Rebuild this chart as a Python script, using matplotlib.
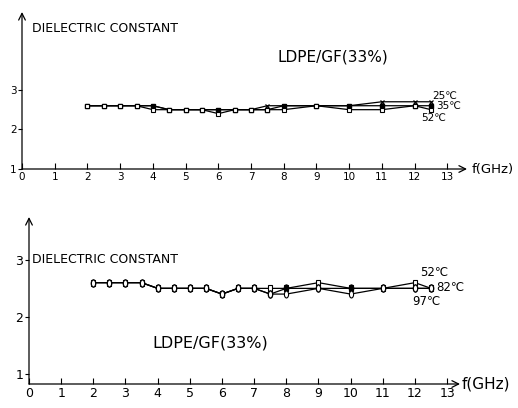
import matplotlib
matplotlib.use("Agg")
import matplotlib.pyplot as plt
from matplotlib.markers import MarkerStyle
from matplotlib.transforms import Affine2D

freq = [2, 2.5, 3, 3.5, 4, 4.5, 5, 5.5, 6, 6.5, 7, 7.5, 8, 9, 10, 11, 12, 12.5]

top_25 = [2.6, 2.6, 2.6, 2.6, 2.6, 2.5, 2.5, 2.5, 2.5, 2.5, 2.5, 2.6, 2.6, 2.6, 2.6, 2.7, 2.7, 2.7]
top_35 = [2.6, 2.6, 2.6, 2.6, 2.6, 2.5, 2.5, 2.5, 2.5, 2.5, 2.5, 2.5, 2.6, 2.6, 2.6, 2.6, 2.6, 2.6]
top_52 = [2.6, 2.6, 2.6, 2.6, 2.5, 2.5, 2.5, 2.5, 2.4, 2.5, 2.5, 2.5, 2.5, 2.6, 2.5, 2.5, 2.6, 2.5]

bot_52 = [2.6, 2.6, 2.6, 2.6, 2.5, 2.5, 2.5, 2.5, 2.4, 2.5, 2.5, 2.5, 2.5, 2.6, 2.5, 2.5, 2.6, 2.5]
bot_82 = [2.6, 2.6, 2.6, 2.6, 2.5, 2.5, 2.5, 2.5, 2.4, 2.5, 2.5, 2.4, 2.5, 2.5, 2.5, 2.5, 2.5, 2.5]
bot_97 = [2.6, 2.6, 2.6, 2.6, 2.5, 2.5, 2.5, 2.5, 2.4, 2.5, 2.5, 2.4, 2.4, 2.5, 2.4, 2.5, 2.5, 2.5]

xticks = list(range(0, 14))
top_yticks = [1, 2, 3]
bot_yticks = [1, 2, 3]

plt.rcParams['font.family'] = ['DejaVu Sans']

fig = plt.figure(figsize=(5.18, 4.08), dpi=100)
W, H = 518, 408

def axes_px(left, right, bottom, top):
    return fig.add_axes([left / W, (H - bottom) / H, (right - left) / W, (bottom - top) / H])

def style_axes(ax, xlim, ylim, fs):
    ax.set_xlim(*xlim)
    ax.set_ylim(*ylim)
    for s in ['top', 'right', 'left', 'bottom']:
        ax.spines[s].set_visible(False)
    ax.patch.set_alpha(0)
    ax.annotate('', xy=(xlim[1], ylim[0]), xytext=(0, ylim[0]),
                arrowprops=dict(arrowstyle='->', lw=0.9, color='black', mutation_scale=12,
                                shrinkA=0, shrinkB=0), annotation_clip=False)
    ax.annotate('', xy=(0, ylim[1]), xytext=(0, ylim[0]),
                arrowprops=dict(arrowstyle='->', lw=0.9, color='black', mutation_scale=12,
                                shrinkA=0, shrinkB=0), annotation_clip=False)
    ax.set_xticks(xticks)
    ax.set_xticklabels([str(t) for t in xticks], fontsize=fs)
    ax.tick_params(axis='x', direction='in', length=4, width=0.8, pad=2)
    ax.tick_params(axis='y', direction='out', length=3, width=0.8, pad=1, labelsize=fs)

# ---------------- top panel ----------------
ax1 = axes_px(22, 467, 169, 12)
style_axes(ax1, (0, 13.6), (1, 4.97), 7.5)
ax1.set_yticks(top_yticks)
ax1.set_yticklabels([str(t) for t in top_yticks])
ax1.plot(freq, top_25, color='black', lw=0.9, marker='x', ms=3.5, mew=0.9)
ax1.plot(freq, top_35, color='black', lw=0.9, marker='s', ms=3, mfc='black')
ax1.plot(freq, top_52, color='black', lw=0.9, marker='s', ms=3, mfc='white', mew=0.8)
ax1.text(0.3, 4.55, 'DIELECTRIC CONSTANT', fontsize=9, va='center', ha='left')
ax1.text(7.8, 3.82, 'LDPE/GF(33%)', fontsize=11, va='center', ha='left')
ax1.text(12.55, 2.85, '25℃', fontsize=7.5, va='center', ha='left')
ax1.text(12.65, 2.6, '35℃', fontsize=7.5, va='center', ha='left')
ax1.text(12.2, 2.3, '52℃', fontsize=7.5, va='center', ha='left')
ax1.text(13.75, 1.0, 'f(GHz)', fontsize=9.5, va='center', ha='left', clip_on=False)

# ---------------- bottom panel ----------------
ax2 = axes_px(29, 460, 384, 217)
style_axes(ax2, (0, 13.4), (0.825, 3.75), 9)
ax2.set_yticks(bot_yticks)
ax2.set_yticklabels([str(t) for t in bot_yticks])
oval = MarkerStyle('o', transform=Affine2D().scale(0.6, 1.0))
rect = MarkerStyle('s', transform=Affine2D().scale(0.6, 1.0))
ax2.plot(freq, bot_52, color='black', lw=0.9, marker=rect, ms=5, mfc='white', mew=0.8)
ax2.plot(freq, bot_82, color='black', lw=0.9, marker=oval, ms=5, mfc='black')
ax2.plot(freq, bot_97, color='black', lw=0.9, marker=oval, ms=5, mfc='white', mew=0.8)
ax2.text(0.1, 3.0, 'DIELECTRIC CONSTANT', fontsize=9, va='center', ha='left')
ax2.text(3.85, 1.55, 'LDPE/GF(33%)', fontsize=11.5, va='center', ha='left')
ax2.text(12.15, 2.78, '52℃', fontsize=8.5, va='center', ha='left')
ax2.text(12.65, 2.52, '82℃', fontsize=8.5, va='center', ha='left')
ax2.text(11.9, 2.27, '97℃', fontsize=8.5, va='center', ha='left')
ax2.text(13.45, 0.825, 'f(GHz)', fontsize=11, va='center', ha='left', clip_on=False)

fig.savefig('out.png', dpi=100)
